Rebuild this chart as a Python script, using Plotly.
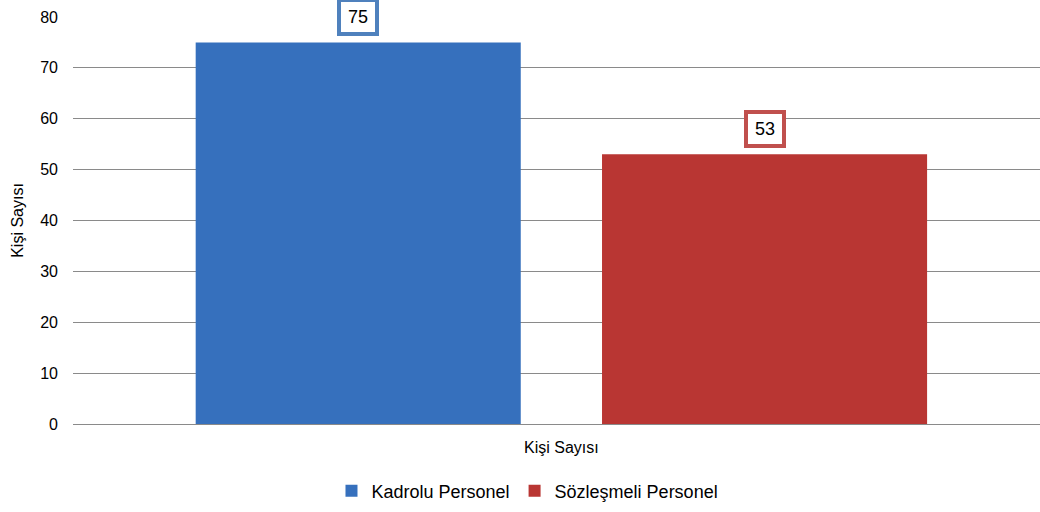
import plotly.graph_objects as go

categories = ["Kişi Sayısı"]
series_names = ["Kadrolu Personel", "Sözleşmeli Personel"]
kadrolu = [75]
sozlesmeli = [53]
y_ticks = [0, 10, 20, 30, 40, 50, 60, 70, 80]

bar_colors = ["#3670bd", "#b93633"]
border_colors = ["#4f81bd", "#c0504d"]

W, H = 1040, 512
ML, MR, MT, MB = 73, 0, 17, 88
x_range = [-0.5, 0.49]
bargap, bargroupgap = 0.168, 0.2

fig = go.Figure()
for name, vals, col in zip(series_names, [kadrolu, sozlesmeli], bar_colors):
    fig.add_trace(go.Bar(x=categories, y=vals, name=name, marker=dict(color=col, line=dict(width=0))))

px_per_unit = (W - ML - MR) / (x_range[1] - x_range[0])
slot = (1 - bargap) / 2
for i, (vals, bc) in enumerate(zip([kadrolu, sozlesmeli], border_colors)):
    shift = (i - 0.5) * slot * px_per_unit
    for c, v in zip(categories, vals):
        fig.add_annotation(x=c, y=v, xref="x", yref="y", text=str(v), showarrow=False,
                           xshift=shift, yshift=6, yanchor="bottom",
                           font=dict(family="Liberation Sans, Arial", size=18, color="#000"),
                           bgcolor="white", bordercolor=bc, borderwidth=4, borderpad=4,
                           width=26, height=22)

fig.update_layout(
    width=W, height=H,
    margin=dict(l=ML, r=MR, t=MT, b=MB),
    paper_bgcolor="white", plot_bgcolor="white",
    barmode="group", bargap=bargap, bargroupgap=bargroupgap,
    font=dict(family="Liberation Sans, Arial", size=16, color="#000"),
    showlegend=True,
    legend=dict(orientation="h", x=0.47, xanchor="center", y=-0.165, yanchor="middle",
                font=dict(size=18), itemwidth=30, traceorder="normal"),
    yaxis=dict(range=[0, 80], tickvals=y_ticks, showgrid=True, gridcolor="#8a8a8a", gridwidth=1.3,
               zeroline=True, zerolinecolor="#8a8a8a", zerolinewidth=1.3,
               title=dict(text="Kişi Sayısı", font=dict(size=16), standoff=12),
               ticklabelstandoff=14, showline=False, tickfont=dict(size=16)),
    xaxis=dict(range=x_range, showgrid=False, showline=False, tickfont=dict(size=16), ticklabelstandoff=12),
)

fig.write_html("out.html")
